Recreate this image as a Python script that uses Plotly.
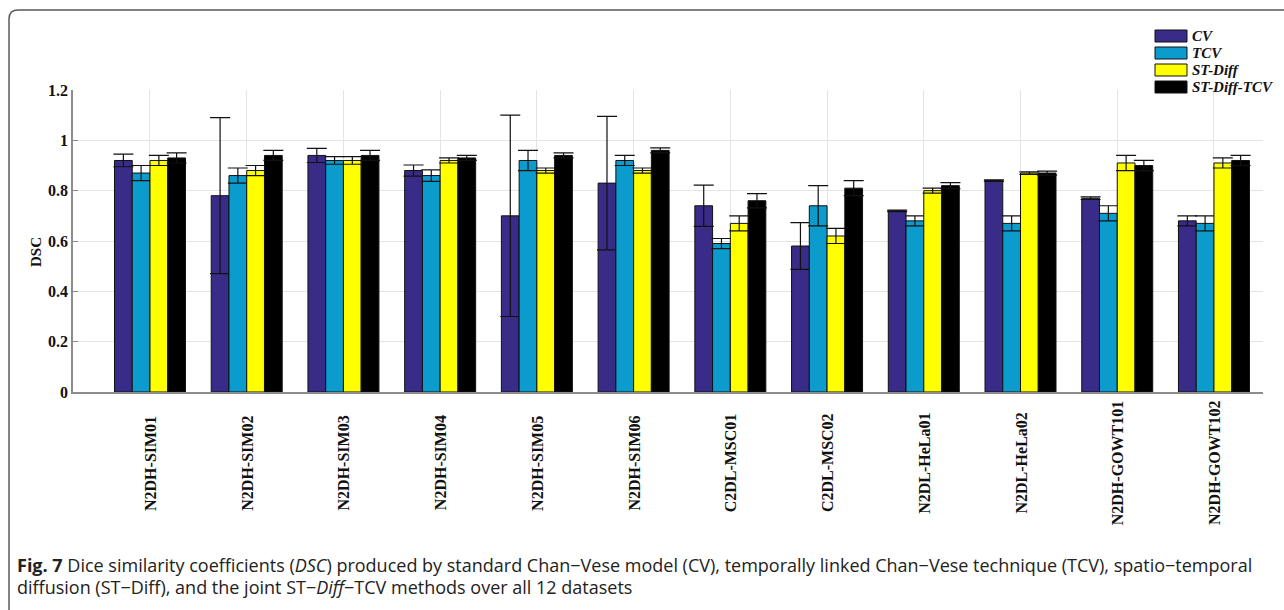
import plotly.graph_objects as go

# ---- data -------------------------------------------------------------
datasets = ["N2DH-SIM01", "N2DH-SIM02", "N2DH-SIM03", "N2DH-SIM04", "N2DH-SIM05",
            "N2DH-SIM06", "C2DL-MSC01", "C2DL-MSC02", "N2DL-HeLa01", "N2DL-HeLa02",
            "N2DH-GOWT101", "N2DH-GOWT102"]

series_names = ["CV", "TCV", "ST-Diff", "ST-Diff-TCV"]

cv_mean = [0.92, 0.78, 0.94, 0.88, 0.70, 0.83, 0.74, 0.58, 0.72, 0.84, 0.77, 0.68]
cv_err = [0.025, 0.31, 0.028, 0.022, 0.40, 0.265, 0.082, 0.093, 0.003, 0.003, 0.005, 0.02]

tcv_mean = [0.87, 0.86, 0.92, 0.86, 0.92, 0.92, 0.59, 0.74, 0.68, 0.67, 0.71, 0.67]
tcv_err = [0.03, 0.03, 0.015, 0.023, 0.04, 0.02, 0.02, 0.08, 0.02, 0.03, 0.03, 0.03]

stdiff_mean = [0.92, 0.88, 0.92, 0.92, 0.88, 0.88, 0.67, 0.62, 0.80, 0.87, 0.91, 0.91]
stdiff_err = [0.02, 0.02, 0.015, 0.01, 0.01, 0.01, 0.03, 0.03, 0.01, 0.005, 0.03, 0.02]

sdtcv_mean = [0.93, 0.94, 0.94, 0.93, 0.94, 0.96, 0.76, 0.81, 0.82, 0.87, 0.90, 0.92]
sdtcv_err = [0.02, 0.02, 0.02, 0.01, 0.01, 0.01, 0.028, 0.03, 0.012, 0.008, 0.02, 0.02]

y_ticks = [0, 0.2, 0.4, 0.6, 0.8, 1.0, 1.2]
y_tick_text = ["0", "0.2", "0.4", "0.6", "0.8", "1", "1.2"]

# ---- styling ----------------------------------------------------------
colors = ["#392c88", "#0b9bcd", "#ffff00", "#000000"]
means = [cv_mean, tcv_mean, stdiff_mean, sdtcv_mean]
errs = [cv_err, tcv_err, stdiff_err, sdtcv_err]

W, H = 1284, 610
L, R, T, B = 73, 21, 90, 218
PW, PH = W - L - R, H - T - B

def px_x(px):
    return (px - L) / PW

def px_y(py):
    return (H - B - py) / PH

serif = "Liberation Serif, Times New Roman, serif"
sans = "Open Sans, Noto Sans, sans-serif"

fig = go.Figure()
for name, col, m, e in zip(series_names, colors, means, errs):
    fig.add_trace(go.Bar(
        x=datasets, y=m, name=name,
        marker=dict(color=col, line=dict(color="#111111", width=1)),
        error_y=dict(type="data", array=e, visible=True, color="#111111",
                     thickness=1.2, width=10),
        showlegend=False,
    ))

annotations = []
shapes = []

# rotated category labels below the axis
for d in datasets:
    annotations.append(dict(
        x=d, xref="x", y=px_y(463), yref="paper", text=d, textangle=-90,
        showarrow=False, xanchor="center", yanchor="middle",
        font=dict(family=serif, size=16, color="#111111", weight="bold"),
    ))

# y-axis title
annotations.append(dict(
    x=px_x(36), xref="paper", y=px_y(252), yref="paper", text="DSC", textangle=-90,
    showarrow=False, xanchor="center", yanchor="middle",
    font=dict(family=serif, size=15, color="#111111", weight="bold"),
))

# legend block: wide swatches with italic labels
leg_centers = [36, 53, 70, 87]
for name, col, cy in zip(series_names, colors, leg_centers):
    shapes.append(dict(
        type="rect", xref="paper", yref="paper",
        x0=px_x(1155), x1=px_x(1187), y0=px_y(cy + 6), y1=px_y(cy - 6),
        fillcolor=col, line=dict(color="#111111", width=1),
    ))
    annotations.append(dict(
        x=px_x(1190), xref="paper", y=px_y(cy), yref="paper", text=name,
        showarrow=False, xanchor="left", yanchor="middle",
        font=dict(family=serif, size=15, color="#111111", weight="bold", style="italic"),
    ))

# caption
cap1 = ("<b>Fig. 7</b> Dice similarity coefficients (<i>DSC</i>) produced by standard "
        "Chan\u2212Vese model (CV), temporally linked Chan\u2212Vese technique (TCV), "
        "spatio\u2212temporal")
cap2 = ("diffusion (ST\u2212Diff), and the joint ST\u2212<i>Diff</i>\u2212TCV methods "
        "over all 12 datasets")
for txt, cy in [(cap1, 565), (cap2, 587)]:
    annotations.append(dict(
        x=px_x(15), xref="paper", y=px_y(cy), yref="paper", text=txt,
        showarrow=False, xanchor="left", yanchor="middle",
        font=dict(family=sans, size=18, color="#222222"),
    ))

# rounded outer frame (top-left corner visible)
x0, yt, rad = 9, 10, 9
fx0, fx1 = px_x(x0), px_x(W + 10)
fyt, fyb = px_y(yt), px_y(H + 10)
path = (f"M {fx0},{fyb} L {fx0},{px_y(yt + rad)} "
        f"Q {fx0},{fyt} {px_x(x0 + rad)},{fyt} L {fx1},{fyt}")
shapes.append(dict(type="path", xref="paper", yref="paper", path=path,
                   line=dict(color="#5a5a5a", width=1.5)))

fig.update_layout(
    width=W, height=H,
    margin=dict(l=L, r=R, t=T, b=B, pad=0),
    paper_bgcolor="white", plot_bgcolor="white",
    barmode="group", bargap=0.266, bargroupgap=0,
    annotations=annotations, shapes=shapes,
    xaxis=dict(
        type="category", range=[-0.796, 11.507],
        showticklabels=False, ticks="",
        showgrid=True, gridcolor="#e4e4e4", gridwidth=1,
        showline=True, linecolor="#8c8c8c", linewidth=1.5,
        zeroline=False,
    ),
    yaxis=dict(
        range=[0, 1.2], tickvals=y_ticks, ticktext=y_tick_text,
        ticks="inside", ticklen=5, tickcolor="#8c8c8c", tickwidth=1,
        showgrid=True, gridcolor="#e4e4e4", gridwidth=1,
        showline=True, linecolor="#8c8c8c", linewidth=1.5,
        zeroline=False,
        tickfont=dict(family=serif, size=16, color="#111111", weight="bold"),
    ),
)

fig.write_html("out.html")
